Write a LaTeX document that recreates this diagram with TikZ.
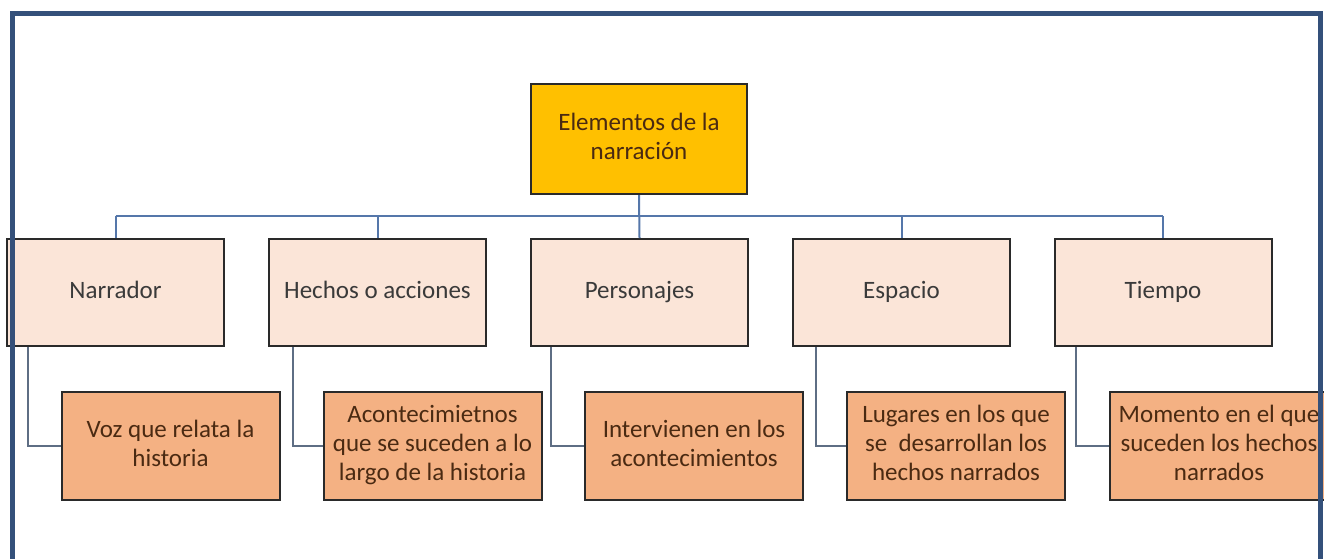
\documentclass[tikz,border=0pt]{standalone}
\usepackage{fontspec}
\setmainfont{Carlito}
\definecolor{frameblue}{HTML}{34507A}
\definecolor{busblue}{HTML}{5577AA}
\definecolor{connblue}{HTML}{5E6E84}
\definecolor{gold}{HTML}{FFC000}
\definecolor{peach}{HTML}{FBE5D8}
\definecolor{salmon}{HTML}{F4B183}
\definecolor{boxline}{HTML}{2A2A2A}
\definecolor{txtgray}{HTML}{3A3A3A}
\definecolor{txtbrown}{HTML}{4A2A12}
\begin{document}
\begin{tikzpicture}[x=1pt,y=-1pt,
  basebox/.style={draw=boxline, line width=2pt, align=center, inner sep=0pt,
    font=\fontsize{25}{29}\selectfont},
  topbox/.style={basebox, fill=gold, text=txtbrown, minimum width=216pt, minimum height=110pt},
  catbox/.style={basebox, fill=peach, text=txtgray, minimum width=217pt, minimum height=107pt},
  descbox/.style={basebox, fill=salmon, text=txtbrown, minimum width=218pt, minimum height=108pt},
  bus/.style={draw=busblue, line width=2pt},
  conn/.style={draw=connblue, line width=2pt}]
\useasboundingbox (0,0) rectangle (1324,558);
\fill[white] (0,0) rectangle (1324,558);

% top
\node[topbox] (top) at (639,139) {\strut Elementos de la\\narración\strut};

% row 2
\node[catbox] (narr) at (115.5,292.5) {\strut Narrador};
\node[catbox] (hech) at (377.5,292.5) {\strut Hechos o acciones};
\node[catbox] (pers) at (639.5,292.5) {\strut Personajes};
\node[catbox] (espa) at (901.5,292.5) {\strut Espacio};
\node[catbox] (tiem) at (1163,292.5) {\strut Tiempo};

% row 3
\node[descbox] (voz) at (170.5,446) {\strut Voz que relata la\\historia\strut};
\node[descbox] (acon) at (432.5,446) {\strut Acontecimietnos\\que se suceden a lo\\largo de la historia\strut};
\node[descbox] (inte) at (694,446) {\strut Intervienen en los\\acontecimientos\strut};
\node[descbox] (luga) at (956,446) {\strut Lugares en los que\\se\ \ desarrollan los\\hechos narrados\strut};
\node[descbox] (mome) at (1219,446) {\strut Momento en el que\\suceden los hechos\\narrados\strut};

% bus
\coordinate (busL) at (narr.north |- 0,216);
\coordinate (busR) at (tiem.north |- 0,216);
\draw[bus] (busL) -- (busR);
\draw[bus] (top.south) -- (pers.north);
\foreach \n in {narr,hech,espa,tiem}{
  \draw[bus] (\n.north |- busL) -- (\n.north);
}

% sub connectors
\draw[conn] ([xshift=22pt]narr.south west) |- (voz.west);
\draw[conn] ([xshift=25pt]hech.south west) |- (acon.west);
\draw[conn] ([xshift=21pt]pers.south west) |- (inte.west);
\draw[conn] ([xshift=24pt]espa.south west) |- (luga.west);
\draw[conn] ([xshift=22pt]tiem.south west) |- (mome.west);

% frame
\draw[frameblue, line width=5pt] (12,560) -- (12,13) -- (1320,13) -- (1320,560);
\end{tikzpicture}
\end{document}
